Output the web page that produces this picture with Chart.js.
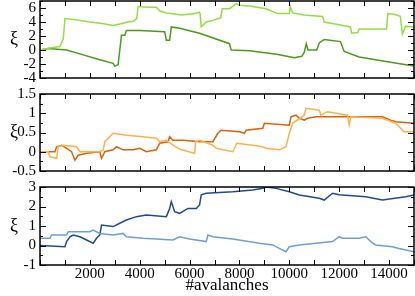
<!DOCTYPE html>
<html>
<head>
<meta charset="utf-8">
<script src="https://cdn.jsdelivr.net/npm/chart.js@4.4.1/dist/chart.umd.min.js"></script>
<style>
  body { margin: 0; background: #fff; }
  #wrap { position: relative; width: 415px; height: 296px; }
  canvas { position: absolute; left: 0; top: 0; }
</style>
</head>
<body>
<div id="wrap">
  <canvas id="p1" width="415" height="296"></canvas>
  <canvas id="p2" width="415" height="296"></canvas>
  <canvas id="p3" width="415" height="296"></canvas>
</div>
<script>
// values: [#avalanches, xi]
var greenLight = [[0,0],[400,0.3],[800,0.5],[933,1.6],[1000,4.5],[1500,4.3],[2000,4.0],[2500,3.8],[2933,3.5],[3200,3.7],[3533,4.0],[3733,4.1],[3880,4.5],[3933,6.2],[4300,6.1],[4667,6.1],[4800,5.6],[5067,5.3],[5700,5.0],[6200,5.2],[6380,5.4],[6420,5.2],[6467,3.3],[6667,4.0],[6900,4.2],[7250,4.6],[7307,5.9],[7600,5.9],[7867,6.6],[8000,6.4],[8400,6.3],[9067,5.9],[9533,5.2],[10000,5.2],[10040,6.2],[10133,5.3],[10600,5.0],[11333,4.8],[11400,4.0],[12000,3.6],[12450,3.3],[12500,2.4],[12750,2.5],[12800,3.0],[13900,3.0],[13950,5.2],[14200,5.1],[14450,4.8],[14533,2.3],[14667,3.4],[15000,3.3]];
var greenDark = [[0,0],[333,0.2],[1067,0],[1733,-0.7],[2400,-1.4],[2933,-1.9],[3000,-2.3],[3133,-2.1],[3200,0],[3267,2.1],[3400,2.1],[3467,2.8],[4000,2.8],[5000,2.6],[5067,1.4],[5200,1.4],[5267,3.3],[5600,3.1],[6400,2.4],[7600,0.9],[7667,0],[8400,-0.1],[9500,-0.6],[10200,-1.1],[10500,-0.9],[10600,-0.3],[10680,0.9],[10750,0],[11100,0],[11200,1.0],[11400,1.5],[12050,1.2],[12200,-0.2],[12800,-1.0],[14000,-1.7],[15000,-2.3]];
var orangeLight = [[0,0],[333,0],[400,-0.13],[667,-0.17],[733,0.13],[933,0.17],[1467,0.13],[1600,0],[2400,0],[2533,0.05],[2600,0.26],[2933,0.48],[3467,0.43],[4133,0.39],[4667,0.35],[4800,0.26],[5067,0.3],[5333,0.17],[5667,0.05],[6200,-0.04],[6240,0.26],[6400,0.3],[6933,0.17],[7067,0.09],[7733,0],[7893,0.22],[8533,0.17],[8933,0.13],[9067,0.09],[9600,0.05],[9867,0.13],[10000,0.48],[10133,0.74],[10600,0.95],[10667,1.13],[11200,1.08],[11267,0.95],[11533,1.04],[12333,0.95],[12400,0.69],[12467,0.91],[13733,0.87],[14267,0.74],[14600,0.52],[15000,0.52]];
var orangeDark = [[0,0],[600,0],[667,0.13],[867,0.17],[1067,0.09],[1267,0],[1400,-0.22],[1533,-0.09],[1867,-0.04],[2400,0],[2467,-0.17],[2600,0],[2933,0.05],[3067,0.13],[3333,0.05],[3733,0.05],[4000,0.09],[4267,0],[4667,0.05],[4800,0.22],[5133,0.26],[5200,0.39],[5333,0.3],[5733,0.3],[6400,0.26],[6933,0.26],[7133,0.48],[7267,0.56],[8000,0.52],[8200,0.48],[8267,0.56],[8933,0.61],[9000,0.74],[10000,0.69],[10067,0.91],[10267,0.95],[10400,0.87],[10600,0.82],[10733,0.87],[11067,0.91],[13733,0.91],[14067,0.82],[14267,0.78],[15000,0.74]];
var blueDark = [[0,0],[1000,-0.06],[1067,0.2],[1200,0.45],[1333,0.54],[1600,0.45],[1867,0.28],[2133,0.11],[2267,0.37],[2400,0.54],[2467,1.05],[2933,0.97],[3200,1.14],[3467,1.31],[3867,1.48],[4267,1.56],[5067,1.48],[5200,1.9],[5267,2.25],[5400,1.73],[5600,1.65],[5933,1.9],[6267,1.9],[6400,2.08],[6467,2.6],[6667,2.68],[7733,2.76],[8533,2.85],[8933,2.93],[9067,3.0],[9467,2.93],[10000,2.76],[10400,2.59],[11200,2.42],[11400,2.33],[11733,2.68],[12000,2.6],[13067,2.5],[13733,2.33],[14667,2.5],[15000,2.59]];
var blueLight = [[0,0.37],[400,0.37],[467,0.54],[1067,0.54],[1133,0.71],[2000,0.71],[2133,0.79],[2400,0.62],[2933,0.54],[3333,0.62],[3467,0.45],[4133,0.37],[4667,0.33],[5333,0.28],[5600,0.45],[6000,0.33],[6667,0.2],[6733,0.54],[6933,0.45],[7733,0.33],[8800,0.11],[9333,0.03],[9600,-0.15],[9867,-0.32],[10000,-0.06],[10400,0.03],[11067,0.11],[11733,0.2],[12000,0.45],[12133,0.37],[12800,0.37],[13067,0.45],[13267,0.2],[13467,0.03],[14133,-0.06],[14400,-0.15],[15000,-0.32]];

// y range [min, max, minor step, labelled step] per panel
var yAxis1 = [-4, 7, 1, 2];
var yAxis2 = [-0.5, 1.5, 0.25, 0.5];
var yAxis3 = [-1, 3, 0.5, 1];
var xRange = [0, 15000];
var xStep = 1000;

var serif = '"Liberation Serif", "Times New Roman", serif';

function pts(arr) {
  return arr.map(function (p) { return { x: p[0], y: p[1] }; });
}

function isMajor(v, step) {
  var r = v / step;
  return Math.abs(r - Math.round(r)) < 1e-6;
}

// frame, inward ticks and the xi label
var frameTicks = {
  id: 'frameTicks',
  afterDraw: function (chart) {
    var ctx = chart.ctx, a = chart.chartArea, sx = chart.scales.x, sy = chart.scales.y;
    ctx.save();
    ctx.strokeStyle = '#000';
    ctx.lineWidth = 1;
    ctx.beginPath();
    for (var v = xRange[0]; v <= xRange[1]; v += xStep) {
      var px = Math.round(sx.getPixelForValue(v)) + 0.5;
      ctx.moveTo(px, a.top); ctx.lineTo(px, a.top + 5);
      ctx.moveTo(px, a.bottom); ctx.lineTo(px, a.bottom - 5);
    }
    sy.ticks.forEach(function (t) {
      var len = t.label === '' ? 3 : 6;
      var py = Math.round(sy.getPixelForValue(t.value)) + 0.5;
      ctx.moveTo(a.left, py); ctx.lineTo(a.left + len, py);
      ctx.moveTo(a.right, py); ctx.lineTo(a.right - len, py);
    });
    ctx.stroke();
    ctx.lineWidth = 1.5;
    ctx.strokeRect(a.left, a.top, a.right - a.left, a.bottom - a.top);
    ctx.fillStyle = '#000';
    ctx.font = '18px ' + serif;
    ctx.textAlign = 'center';
    ctx.textBaseline = 'middle';
    ctx.fillText('ξ', 14, (a.top + a.bottom) / 2);
    ctx.restore();
  }
};

function zeroPad(scale) {
  scale.paddingTop = 0; scale.paddingBottom = 0;
  scale.paddingLeft = 0; scale.paddingRight = 0;
}

function makePanel(id, light, dark, colLight, colDark, yAx, top, bottom, showX) {
  return new Chart(document.getElementById(id), {
    type: 'line',
    data: {
      datasets: [
        { data: pts(light), borderColor: colLight, borderWidth: 1.5, pointRadius: 0, tension: 0 },
        { data: pts(dark), borderColor: colDark, borderWidth: 1.5, pointRadius: 0, tension: 0 }
      ]
    },
    options: {
      responsive: false,
      animation: false,
      events: [],
      layout: { padding: { top: top, bottom: showX ? 0 : 296 - bottom, left: 0, right: 1 } },
      plugins: { legend: { display: false }, tooltip: { enabled: false } },
      scales: {
        x: {
          type: 'linear',
          display: showX,
          min: xRange[0], max: xRange[1],
          grid: { display: false, drawTicks: false },
          border: { display: false },
          ticks: {
            stepSize: xStep, autoSkip: false, maxRotation: 0, padding: 0,
            color: '#000', font: { family: serif, size: 15 },
            callback: function (v) { return (v % 2000 === 0 && v > 0 && v < 15000) ? String(v) : ''; }
          },
          title: { display: true, text: '#avalanches', color: '#000', padding: { top: -2, bottom: 0 }, font: { family: serif, size: 17 } },
          afterFit: function (s) { s.height = showX ? 296 - bottom : 0; zeroPad(s); }
        },
        y: {
          min: yAx[0], max: yAx[1],
          grid: { display: false, drawTicks: false },
          border: { display: false },
          ticks: {
            stepSize: yAx[2], autoSkip: false, padding: 4,
            color: '#000', font: { family: serif, size: 15 },
            callback: function (v) { return isMajor(v, yAx[3]) ? String(+v.toFixed(2)) : ''; }
          },
          afterFit: function (s) { s.width = 40; zeroPad(s); }
        }
      }
    },
    plugins: [frameTicks]
  });
}

makePanel('p1', greenLight, greenDark, '#93dd45', '#4c9a1c', yAxis1, 1, 78, false);
makePanel('p2', orangeLight, orangeDark, '#fdb24c', '#d9620f', yAxis2, 94, 171, false);
makePanel('p3', blueLight, blueDark, '#6e9fdc', '#1d4c8f', yAxis3, 187, 265, true);
</script>
</body>
</html>
